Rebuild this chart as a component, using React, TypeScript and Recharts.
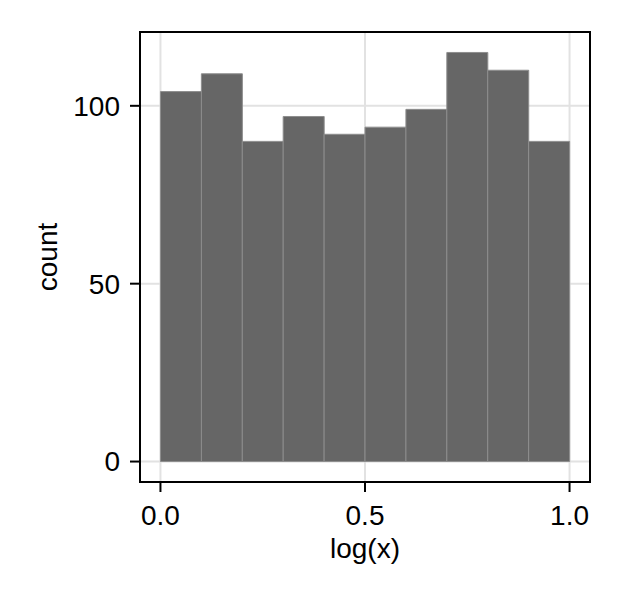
import React from "react";
import {
  BarChart,
  Bar,
  XAxis,
  YAxis,
  CartesianGrid,
  ReferenceArea,
} from "recharts";

// histogram bins: centre of each 0.1-wide bin on log(x)
const binCenters = [0.05, 0.15, 0.25, 0.35, 0.45, 0.55, 0.65, 0.75, 0.85, 0.95];
const counts = [104, 109, 90, 97, 92, 94, 99, 115, 110, 90];
const xTicks = [0, 0.5, 1];
const yTicks = [0, 50, 100];

const data = binCenters.map((x, i) => ({ x, count: counts[i] }));

const FONT = "'Liberation Sans', Arial, sans-serif";

const XLabel = (props: any) => {
  const { viewBox } = props;
  return (
    <text
      x={viewBox.x + viewBox.width / 2}
      y={viewBox.y + 76}
      textAnchor="middle"
      fontSize={28}
      fontFamily={FONT}
      fill="#000"
    >
      log(x)
    </text>
  );
};

const YLabel = () => (
  <text
    x={57}
    y={257}
    textAnchor="middle"
    fontSize={28}
    fontFamily={FONT}
    fill="#000"
    transform="rotate(-90 57 257)"
  >
    count
  </text>
);

export default function App() {
  return (
    <div style={{ position: "absolute", left: 0, top: 0, background: "#fff" }}>
      <BarChart
        width={622}
        height={600}
        data={data}
        margin={{ top: 32, right: 32, left: 40, bottom: 38 }}
        barCategoryGap={0}
        barGap={0}
      >
        <CartesianGrid stroke="#e2e2e2" strokeWidth={2} />
        <XAxis
          dataKey="x"
          type="number"
          domain={[-0.05, 1.05]}
          ticks={xTicks}
          allowDataOverflow
          height={80}
          axisLine={false}
          tickLine={{ stroke: "#000", strokeWidth: 2 }}
          tickSize={10}
          tickMargin={13}
          tickFormatter={(v: number) => v.toFixed(1)}
          tick={{ fill: "#000", fontSize: 28, fontFamily: FONT }}
          label={<XLabel />}
        />
        <YAxis
          type="number"
          domain={[-5.75, 120.75]}
          ticks={yTicks}
          allowDataOverflow
          width={100}
          axisLine={false}
          tickLine={{ stroke: "#000", strokeWidth: 2 }}
          tickSize={10}
          tickMargin={10}
          tick={{ fill: "#000", fontSize: 28, fontFamily: FONT }}
          label={<YLabel />}
        />
        <Bar
          dataKey="count"
          fill="#666666"
          stroke="#8e8e8e"
          strokeWidth={1}
          isAnimationActive={false}
        />
        <ReferenceArea
          x1={-0.05}
          x2={1.05}
          y1={-5.75}
          y2={120.75}
          fill="none"
          fillOpacity={0}
          stroke="#000"
          strokeWidth={2}
        />
      </BarChart>
    </div>
  );
}
